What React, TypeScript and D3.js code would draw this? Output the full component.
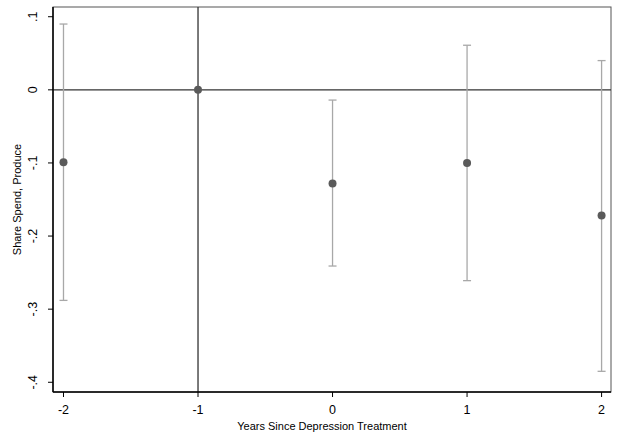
import React from 'react';
import * as d3 from 'd3';

// event-study coefficients
const years = [-2, -1, 0, 1, 2];
const estimates = [-0.099, 0, -0.128, -0.1, -0.172];
const ciLow = [-0.288, 0, -0.241, -0.261, -0.385];
const ciHigh = [0.09, 0, -0.014, 0.061, 0.04];
const yTicks = [0.1, 0, -0.1, -0.2, -0.3, -0.4];
const yTickLabels = ['.1', '0', '-.1', '-.2', '-.3', '-.4'];

const width = 619;
const height = 438;
const margin = { top: 7, left: 53, bottom: 46, right: 8 };
const font = 'Liberation Sans, Arial, sans-serif';

export default function App() {
  const iw = width - margin.left - margin.right;
  const ih = height - margin.top - margin.bottom;

  const x = d3.scaleLinear().domain([-2.078, 2.07]).range([0, iw]);
  const y = d3.scaleLinear().domain([-0.4133, 0.1133]).range([ih, 0]);

  return (
    <svg width={width} height={height} style={{ position: 'absolute', left: 0, top: 0, background: '#fff' }}>
      <g transform={`translate(${margin.left},${margin.top})`}>
        <rect x={0} y={0} width={iw} height={ih} fill="#fff" stroke="#555" strokeWidth={1} />

        {/* reference lines */}
        <line x1={0} x2={iw} y1={y(0)} y2={y(0)} stroke="#333" strokeWidth={1.3} />
        <line x1={x(-1)} x2={x(-1)} y1={0} y2={ih} stroke="#333" strokeWidth={1.3} />

        {/* confidence intervals */}
        {years.map((yr, i) => (
          <g key={'ci' + yr} stroke="#a8a8a8" strokeWidth={1.3}>
            <line x1={x(yr)} x2={x(yr)} y1={y(ciHigh[i])} y2={y(ciLow[i])} />
            <line x1={x(yr) - 4} x2={x(yr) + 4} y1={y(ciHigh[i])} y2={y(ciHigh[i])} />
            <line x1={x(yr) - 4} x2={x(yr) + 4} y1={y(ciLow[i])} y2={y(ciLow[i])} />
          </g>
        ))}

        {/* point estimates */}
        {years.map((yr, i) => (
          <circle key={'pt' + yr} cx={x(yr)} cy={y(estimates[i])} r={4} fill="#5a5a5a" />
        ))}

        {/* axes */}
        <line x1={0} x2={0} y1={0} y2={ih} stroke="#000" strokeWidth={1.5} />
        <line x1={0} x2={iw} y1={ih} y2={ih} stroke="#000" strokeWidth={1.5} />

        {yTicks.map((t, i) => (
          <g key={'yt' + t} transform={`translate(0,${y(t)})`}>
            <line x1={-5} x2={0} stroke="#000" strokeWidth={1} />
            <text
              transform="translate(-16,0) rotate(-90)"
              textAnchor="middle"
              fontFamily={font}
              fontSize={12.5}
              fill="#000"
            >
              {yTickLabels[i]}
            </text>
          </g>
        ))}

        {years.map((yr) => (
          <g key={'xt' + yr} transform={`translate(${x(yr)},${ih})`}>
            <line y1={0} y2={5} stroke="#000" strokeWidth={1} />
            <text y={22} textAnchor="middle" fontFamily={font} fontSize={12.5} fill="#000">
              {yr}
            </text>
          </g>
        ))}

        <text
          x={iw / 2 - 10}
          y={ih + 38}
          textAnchor="middle"
          fontFamily={font}
          fontSize={11}
          fill="#000"
        >
          Years Since Depression Treatment
        </text>
        <text
          transform={`translate(${-32},${ih / 2}) rotate(-90)`}
          textAnchor="middle"
          fontFamily={font}
          fontSize={11}
          fill="#000"
        >
          Share Spend, Produce
        </text>
      </g>
    </svg>
  );
}
